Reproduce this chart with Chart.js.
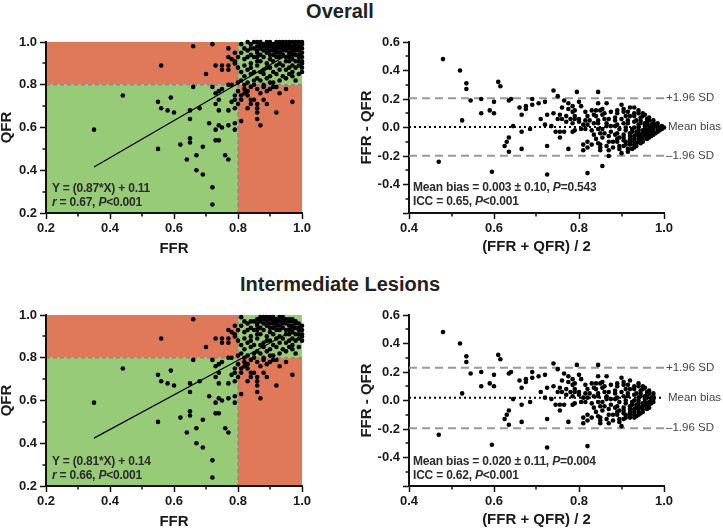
<!DOCTYPE html>
<html>
<head>
<meta charset="utf-8">
<script src="https://cdn.jsdelivr.net/npm/chart.js@4.4.1/dist/chart.umd.min.js"></script>
<style>
  body { margin: 0; background: #fff; width: 723px; height: 531px; position: relative; overflow: hidden; font-family: 'Liberation Sans', Arial, sans-serif; }
  canvas { position: absolute; }
  .title { position: absolute; left: 0; width: 680px; text-align: center; font-weight: bold; font-size: 20px; line-height: 20px; color: #222; }
  .stats { position: absolute; font-weight: bold; font-size: 12px; line-height: 13.5px; color: #2b2b2b; letter-spacing: -0.2px; white-space: nowrap; }
</style>
</head>
<body>
<div class="title" style="top:1px">Overall</div>
<div class="title" style="top:274px">Intermediate Lesions</div>

<canvas id="scatterOverall" width="340" height="240" style="left:0;top:30px"></canvas>
<canvas id="baOverall" width="363" height="240" style="left:360px;top:30px"></canvas>
<canvas id="scatterInterm" width="340" height="240" style="left:0;top:303px"></canvas>
<canvas id="baInterm" width="363" height="240" style="left:360px;top:303px"></canvas>

<div class="stats" style="left:52px;top:182px">Y = (0.87*X) + 0.11<br><i>r</i> = 0.67, <i>P</i>&lt;0.001</div>
<div class="stats" style="left:413px;top:181px">Mean bias = 0.003 ± 0.10, <i>P</i>=0.543<br>ICC = 0.65, <i>P</i>&lt;0.001</div>
<div class="stats" style="left:52px;top:455px">Y = (0.81*X) + 0.14<br><i>r</i> = 0.66, <i>P</i>&lt;0.001</div>
<div class="stats" style="left:413px;top:455px">Mean bias = 0.020 ± 0.11, <i>P</i>=0.004<br>ICC = 0.62, <i>P</i>&lt;0.001</div>

<script>
// ---- data (FFR, QFR) ----
// lesions outside the dense upper-right cluster (both panels)
const sharedPoints = [
  [0.35,0.59],[0.44,0.75],[0.56,0.89],[0.55,0.72],[0.56,0.69],[0.58,0.68],[0.59,0.74],[0.60,0.67],
  [0.55,0.50],[0.62,0.52],[0.65,0.53],[0.65,0.55],[0.65,0.64],[0.65,0.68],[0.66,0.98],[0.66,0.79],
  [0.64,0.45],[0.67,0.47],[0.67,0.40],[0.69,0.51],[0.69,0.38],[0.68,0.69],[0.72,0.32],[0.72,0.24],
  [0.71,0.62],[0.70,0.85],[0.72,0.79],[0.73,0.89],[0.73,0.59],[0.73,0.54],[0.74,0.54],[0.74,0.61],
  [0.73,0.71],[0.74,0.73],[0.73,0.76],[0.74,0.77],[0.75,0.78],[0.74,0.68],[0.75,0.60],[0.75,0.89],
  [0.75,0.87],[0.77,0.89],[0.77,0.87],[0.77,0.93],[0.76,0.47],[0.77,0.45],[0.77,0.61],[0.77,0.68],
  [0.78,0.72],[0.79,0.59],[0.79,0.62],[0.79,0.69],[0.79,0.73],[0.79,0.75],[0.78,0.80],[0.77,0.80],
  [0.79,0.91],[0.78,0.92],[0.79,0.90],[0.79,0.95],
  // FFR > 0.80, QFR <= 0.80
  [0.81,0.63],[0.83,0.69],[0.84,0.71],[0.84,0.73],[0.85,0.73],[0.86,0.71],[0.86,0.69],[0.86,0.67],
  [0.86,0.64],[0.87,0.61],[0.83,0.75],[0.81,0.73],[0.88,0.73],[0.89,0.71],[0.92,0.67],[0.93,0.76],
  [0.97,0.72],[0.91,0.79],[0.80,0.71],[0.83,0.77],[0.81,0.75],[0.82,0.78],[0.84,0.79],[0.86,0.78],
  [0.88,0.79],[0.90,0.78],[0.87,0.76],[0.89,0.77],[0.92,0.79],[0.95,0.78],[0.80,0.77],[0.82,0.76]
];
const overallOnly = [[0.72,0.99],[0.77,0.97]];

// dense cluster, overall cohort
const overallCluster = [
  [0.81,0.99],[0.83,1.00],[0.84,0.97],[0.85,1.00],[0.86,0.98],[0.87,1.00],[0.88,0.99],[0.88,0.96],
  [0.89,1.00],[0.90,0.98],[0.90,1.00],[0.91,0.99],[0.91,0.97],[0.92,1.00],[0.92,0.98],[0.93,0.99],
  [0.93,1.00],[0.94,0.97],[0.94,1.00],[0.94,0.99],[0.95,1.00],[0.95,0.98],[0.95,0.96],[0.96,0.99],
  [0.96,1.00],[0.96,0.97],[0.97,1.00],[0.97,0.98],[0.97,0.95],[0.98,0.99],[0.98,1.00],[0.98,0.97],
  [0.99,1.00],[0.99,0.98],[0.99,0.96],[1.00,1.00],[1.00,0.99],[1.00,0.97],[1.00,0.95],[1.00,0.93],
  [1.00,0.91],[1.00,0.88],[1.00,0.86],[0.99,0.93],[0.98,0.91],[0.97,0.92],[0.99,0.89],[0.98,0.94],
  [0.96,0.93],[0.95,0.91],[0.96,0.88],[0.97,0.86],[0.94,0.94],[0.93,0.95],[0.92,0.93],[0.93,0.90],
  [0.91,0.94],[0.90,0.92],[0.89,0.95],[0.88,0.93],[0.87,0.94],[0.86,0.95],[0.85,0.93],[0.84,0.94],
  [0.83,0.96],[0.82,0.92],[0.81,0.95],[0.80,0.93],[0.80,0.88],[0.81,0.86],[0.82,0.89],[0.83,0.87],
  [0.84,0.90],[0.85,0.86],[0.86,0.89],[0.87,0.91],[0.88,0.87],[0.89,0.90],[0.90,0.88],[0.91,0.86],
  [0.92,0.89],[0.93,0.87],[0.94,0.89],[0.95,0.87],[0.96,0.85],[0.94,0.84],[0.92,0.85],[0.90,0.84],
  [0.88,0.85],[0.86,0.83],[0.84,0.85],[0.82,0.84],[0.81,0.82],[0.80,0.81],[0.83,0.81],[0.85,0.82],
  [0.87,0.82],[0.89,0.83],[0.91,0.81],[0.93,0.82],[0.95,0.83],[0.97,0.84],[0.99,0.85],[0.98,0.82],
  [0.85,0.80],[0.88,0.80],[0.90,0.81],[0.82,0.80],[0.86,0.91],[0.84,0.88],[0.87,0.86],[0.89,0.88],
  [0.91,0.91],[0.92,0.95],[0.93,0.93],[0.95,0.93],[0.96,0.91],[0.97,0.89],[0.99,0.91],[0.98,0.88],
  [0.97,0.97],[0.96,0.95],[0.95,0.97],[0.94,0.96],[0.93,0.97],[0.92,0.96],[0.91,0.96],[0.90,0.96],
  [0.89,0.97],[0.88,0.98],[0.87,0.97],[0.86,0.96],[0.85,0.97],[0.84,0.99],[0.82,0.97],[0.83,0.93],
  [0.86,0.93],[0.90,0.94],[0.99,0.94],[1.00,0.90],[0.97,0.94],[0.98,0.96],[0.99,0.97],[0.97,0.96],
  [0.96,0.98],[0.95,0.99],[0.94,0.98],[0.93,0.98],[0.92,0.97],[0.91,0.98],[0.90,0.99],[0.89,0.99],
  [0.87,0.99],[0.86,1.00]
];

// dense cluster, intermediate lesions
const intermCluster = [
  [0.81,0.99],[0.84,0.97],[0.86,0.98],[0.88,0.99],[0.88,0.96],[0.90,0.98],[0.91,0.99],[0.91,0.97],
  [0.92,0.98],[0.93,0.99],[0.94,0.97],[0.94,0.99],[0.95,0.98],[0.95,0.96],[0.96,0.97],[0.97,0.98],
  [0.97,0.95],[0.98,0.97],[0.99,0.96],[1.00,0.95],[1.00,0.93],[1.00,0.91],[1.00,0.88],[0.99,0.93],
  [0.98,0.91],[0.97,0.92],[0.99,0.89],[0.98,0.94],[0.96,0.93],[0.95,0.91],[0.96,0.88],[0.97,0.86],
  [0.94,0.94],[0.93,0.95],[0.92,0.93],[0.93,0.90],[0.91,0.94],[0.90,0.92],[0.89,0.95],[0.88,0.93],
  [0.87,0.94],[0.86,0.95],[0.85,0.93],[0.84,0.94],[0.83,0.96],[0.82,0.92],[0.81,0.95],[0.80,0.93],
  [0.80,0.88],[0.81,0.86],[0.82,0.89],[0.83,0.87],[0.84,0.90],[0.85,0.86],[0.86,0.89],[0.87,0.91],
  [0.88,0.87],[0.89,0.90],[0.90,0.88],[0.91,0.86],[0.92,0.89],[0.93,0.87],[0.94,0.89],[0.95,0.87],
  [0.96,0.85],[0.94,0.84],[0.92,0.85],[0.90,0.84],[0.88,0.85],[0.86,0.83],[0.84,0.85],[0.82,0.84],
  [0.81,0.82],[0.80,0.81],[0.83,0.81],[0.85,0.82],[0.87,0.82],[0.89,0.83],[0.91,0.81],[0.93,0.82],
  [0.95,0.83],[0.97,0.84],[0.99,0.85],[0.98,0.82],[0.85,0.80],[0.88,0.80],[0.90,0.81],[0.82,0.80],
  [0.86,0.91],[0.84,0.88],[0.87,0.86],[0.89,0.88],[0.91,0.91],[0.92,0.95],[0.93,0.93],[0.95,0.93],
  [0.96,0.91],[0.97,0.89],[0.99,0.91],[0.98,0.88],[0.97,0.97],[0.96,0.95],[0.95,0.97],[0.94,0.96],
  [0.93,0.97],[0.92,0.96],[0.91,0.96],[0.90,0.96],[0.89,0.97],[0.88,0.98],[0.87,0.97],[0.86,0.96],
  [0.85,0.97],[0.82,0.97],[0.83,0.93],[0.86,0.93],[0.90,0.94],[0.99,0.94],[1.00,0.90],[0.97,0.94],
  [0.98,0.96],[0.96,0.98],[0.94,0.98],[0.92,0.97],[0.90,0.99],[0.89,0.99],[0.87,0.99]
];

// regression line end points (FFR, QFR)
const fitOverall = [[0.35,0.415],[1.00,0.98]];
const fitInterm = [[0.35,0.424],[1.00,0.95]];

// Bland-Altman reference lines: [mean bias, +1.96 SD, -1.96 SD]
const limitsOverall = [0.003, 0.205, -0.199];
const limitsInterm = [0.020, 0.230, -0.195];
const limitText = ['Mean bias', '+1.96 SD', '\u20131.96 SD'];

const cutoff = 0.8;
const scatterRange = [0.2, 1.0];
const baRangeX = [0.4, 1.0];
const baRangeY = [-0.6, 0.6];

// ---- styling ----
const RED = '#e0785a';
const GREEN = '#97cb77';
const AXIS = '#111';
const FONT = "'Liberation Sans', Arial, sans-serif";

const toXY = pts => pts.map(([x, y]) => ({ x, y }));
const toBA = pts => pts.map(([f, q]) => ({ x: (f + q) / 2, y: f - q }));

// red / green decision quadrants + dashed cut-off lines
const quadrants = {
  id: 'quadrants',
  beforeDraw(chart, args, opts) {
    if (!opts.cut) return;
    const { ctx, chartArea: a, scales: { x, y } } = chart;
    const cx = x.getPixelForValue(opts.cut);
    const cy = y.getPixelForValue(opts.cut);
    ctx.save();
    ctx.fillStyle = RED;
    ctx.fillRect(a.left, a.top, cx - a.left, cy - a.top);
    ctx.fillRect(cx, cy, a.right - cx, a.bottom - cy);
    ctx.fillStyle = GREEN;
    ctx.fillRect(a.left, cy, cx - a.left, a.bottom - cy);
    ctx.fillRect(cx, a.top, a.right - cx, cy - a.top);
    ctx.strokeStyle = '#8a8a8a';
    ctx.lineWidth = 1.5;
    ctx.setLineDash([4, 3]);
    ctx.beginPath();
    ctx.moveTo(a.left, cy); ctx.lineTo(a.right, cy);
    ctx.moveTo(cx, a.top); ctx.lineTo(cx, a.bottom);
    ctx.stroke();
    ctx.restore();
  }
};

// short minor ticks half way between the labelled ones
const minorTicks = {
  id: 'minorTicks',
  afterDraw(chart) {
    const { ctx, chartArea: a, scales: { x, y } } = chart;
    ctx.save();
    ctx.strokeStyle = AXIS;
    ctx.lineWidth = 1.5;
    ctx.beginPath();
    const xs = x.ticks.map(t => t.value);
    for (let i = 0; i < xs.length - 1; i++) {
      const px = Math.round(x.getPixelForValue((xs[i] + xs[i + 1]) / 2));
      ctx.moveTo(px, a.bottom); ctx.lineTo(px, a.bottom + 3.5);
    }
    const ys = y.ticks.map(t => t.value);
    for (let i = 0; i < ys.length - 1; i++) {
      const py = Math.round(y.getPixelForValue((ys[i] + ys[i + 1]) / 2));
      ctx.moveTo(a.left, py); ctx.lineTo(a.left - 3.5, py);
    }
    ctx.stroke();
    ctx.restore();
  }
};

// labels to the right of the Bland-Altman lines
const limitLabels = {
  id: 'limitLabels',
  afterDraw(chart, args, opts) {
    if (!opts.values) return;
    const { ctx, chartArea: a, scales: { y } } = chart;
    ctx.save();
    ctx.font = '11.5px ' + FONT;
    ctx.fillStyle = '#444';
    ctx.textBaseline = 'middle';
    opts.values.forEach((v, i) => {
      ctx.fillText(limitText[i], a.right + (i === 0 ? 4 : 2), y.getPixelForValue(v));
    });
    ctx.restore();
  }
};

function axis(range, title, size, titlePad) {
  return {
    type: 'linear',
    min: range[0],
    max: range[1],
    afterFit: s => { if (s.isHorizontal()) s.height = size; else s.width = size; },
    border: { color: AXIS, width: 2 },
    grid: { drawOnChartArea: false, tickLength: 6, tickWidth: 1.5, tickColor: AXIS },
    ticks: {
      stepSize: 0.2,
      autoSkip: false,
      maxRotation: 0,
      padding: 2,
      color: '#1a1a1a',
      font: { family: FONT, size: 13, weight: 'bold' },
      callback: v => (v < -0.59 ? '' : (Math.abs(v) < 1e-9 ? 0 : v).toFixed(1))
    },
    title: {
      display: true,
      text: title,
      color: '#1a1a1a',
      font: { family: FONT, size: 15, weight: 'bold', lineHeight: 1.2 },
      padding: titlePad
    }
  };
}

function baseOptions(padRight) {
  return {
    responsive: false,
    animation: false,
    layout: { padding: { left: 0, top: 12, right: padRight, bottom: 0 } },
    plugins: { legend: { display: false }, tooltip: { enabled: false } }
  };
}

function makeScatter(id, points, fit) {
  const options = baseOptions(38);
  options.scales = {
    x: axis(scatterRange, 'FFR', 57, { top: 0, bottom: 12 }),
    y: axis(scatterRange, 'QFR', 46, { top: -2, bottom: 0 })
  };
  options.scales.y.ticks.padding = 3;
  options.plugins.quadrants = { cut: cutoff };
  new Chart(document.getElementById(id), {
    type: 'scatter',
    data: {
      datasets: [
        { data: toXY(points), pointRadius: 2.3, pointBackgroundColor: '#000', pointBorderWidth: 0, clip: false, order: 0 },
        { data: toXY(fit), showLine: true, pointRadius: 0, borderColor: '#000', borderWidth: 1.2, order: 1 }
      ]
    },
    options,
    plugins: [quadrants, minorTicks]
  });
}

function makeBA(id, points, limits) {
  const options = baseOptions(59);
  options.scales = {
    x: axis(baRangeX, '(FFR + QFR) / 2', 57, { top: 0, bottom: 14 }),
    y: axis(baRangeY, 'FFR - QFR', 49, { top: -2, bottom: 0 })
  };
  options.scales.y.ticks.padding = 3;
  options.plugins.limitLabels = { values: limits };
  const hline = v => toXY([[baRangeX[0], v], [baRangeX[1], v]]);
  new Chart(document.getElementById(id), {
    type: 'scatter',
    data: {
      datasets: [
        { data: toBA(points), pointRadius: 2.3, pointBackgroundColor: '#000', pointBorderWidth: 0, clip: false, order: 0 },
        { data: hline(limits[0]), showLine: true, pointRadius: 0, borderColor: '#000', borderWidth: 2, borderDash: [2, 3], order: 1 },
        { data: hline(limits[1]), showLine: true, pointRadius: 0, borderColor: '#999', borderWidth: 2, borderDash: [8, 5], order: 1 },
        { data: hline(limits[2]), showLine: true, pointRadius: 0, borderColor: '#999', borderWidth: 2, borderDash: [8, 5], order: 1 }
      ]
    },
    options,
    plugins: [minorTicks, limitLabels]
  });
}

const overallPoints = sharedPoints.concat(overallOnly, overallCluster);
const intermPoints = sharedPoints.concat(intermCluster);

makeScatter('scatterOverall', overallPoints, fitOverall);
makeBA('baOverall', overallPoints, limitsOverall);
makeScatter('scatterInterm', intermPoints, fitInterm);
makeBA('baInterm', intermPoints, limitsInterm);
</script>
</body>
</html>
